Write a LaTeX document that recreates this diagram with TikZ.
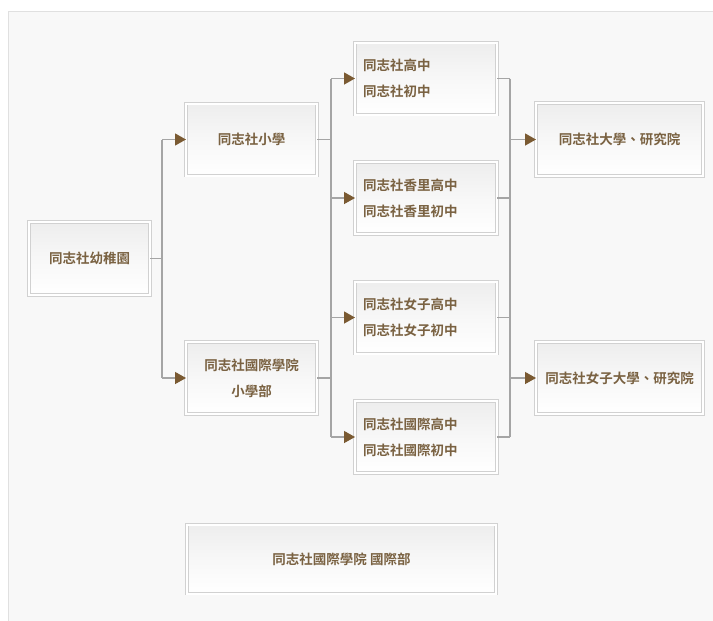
\documentclass[tikz,border=0pt]{standalone}
\usepackage{fontspec}
\usepackage{tikz}
\usetikzlibrary{arrows.meta}
\newfontfamily\cjk{Noto Sans CJK TC}[BoldFont={Noto Sans CJK TC Bold}]
\definecolor{textbrown}{RGB}{122,98,66}
\definecolor{arrowbrown}{RGB}{122,90,50}
\definecolor{linegray}{RGB}{165,165,165}
\definecolor{panel}{RGB}{248,248,248}

\tikzset{
  box/.style={draw=black!18, line width=0.7pt, double=white, double distance=2pt,
    top color=black!7, bottom color=white, middle color=white!97!black,
    minimum height=72pt, outer sep=0pt, text=textbrown,
    font=\cjk\bfseries\fontsize{13.5}{26}\selectfont},
  leftbox/.style={box, minimum width=142pt, text width=126pt, inner xsep=8pt, align=left},
  link/.style={draw=linegray, line width=1.3pt},
  arr/.style={link, -{Triangle[length=11pt,width=12pt,color=arrowbrown]}}
}

\begin{document}
\begin{tikzpicture}[x=1pt,y=-1pt]
                \useasboundingbox (0,0) rectangle (713,621);
                % Background
                \fill[white] (0,0) rectangle (713,621);
                \draw[fill=panel, draw=black!12, line width=0.8pt] (8,11) rectangle (716,624);

                % Boxes
                \node[box, minimum width=121pt, minimum height=73pt] (kinder) at (89.5,258.5) {同志社幼稚園};
                \node[box, minimum width=131pt] (primary) at (251.5,139.5) {同志社小學};
                \node[box, minimum width=131pt, align=center] (intlprimary) at (251.5,378) {同志社國際學院\\小學部};

                \node[leftbox] (hs1) at (426,78.5) {同志社高中\\同志社初中};
                \node[leftbox] (hs2) at (426,198) {同志社香里高中\\同志社香里初中};
                \node[leftbox] (hs3) at (426,317.5) {同志社女子高中\\同志社女子初中};
                \node[leftbox] (hs4) at (426,437) {同志社國際高中\\同志社國際初中};

                \node[box, minimum width=167pt, minimum height=73pt] (univ) at (619.5,139.5) {同志社大學、研究院};
                \node[box, minimum width=167pt] (wuniv) at (619.5,378) {同志社女子大學、研究院};

                \node[box, minimum width=309pt, minimum height=69pt] (intldept) at (341.5,559) {同志社國際學院 國際部};

                % Connectors
                \coordinate (j1) at (162,0);
                \coordinate (j2) at (331,0);
                \coordinate (j3) at (510,0);

                \draw[link] (kinder.east) -- (kinder.east -| j1);
                \draw[link] (primary.west -| j1) -- (intlprimary.west -| j1);
                \foreach \n in {primary,intlprimary}
                    \draw[arr] (\n.west -| j1) -- (\n.west);

                \foreach \n in {primary,intlprimary}
                    \draw[link] (\n.east) -- (\n.east -| j2);
                \draw[link] (hs1.west -| j2) -- (hs4.west -| j2);
                \foreach \n in {hs1,hs2,hs3,hs4}
                    \draw[arr] (\n.west -| j2) -- (\n.west);

                \foreach \n in {hs1,hs2,hs3,hs4}
                    \draw[link] (\n.east) -- (\n.east -| j3);
                \draw[link] (hs1.east -| j3) -- (hs4.east -| j3);
                \foreach \n in {univ,wuniv}
                    \draw[arr] (\n.west -| j3) -- (\n.west);
            \end{tikzpicture}
\end{document}
